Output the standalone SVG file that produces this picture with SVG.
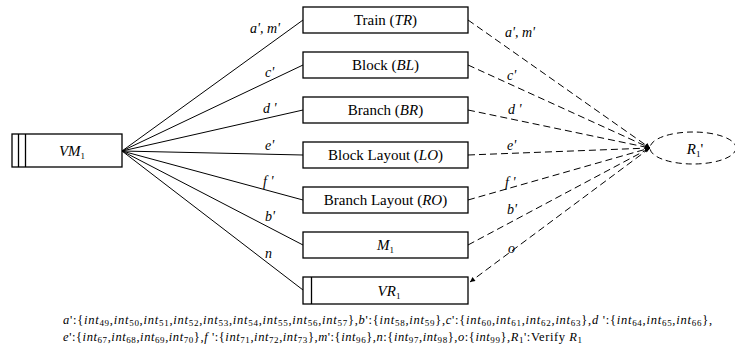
<svg xmlns="http://www.w3.org/2000/svg" width="735" height="356" viewBox="0 0 735 356">
<defs>
<marker id="ah" viewBox="0 0 10 10" refX="10" refY="5" markerWidth="7" markerHeight="5" orient="auto" markerUnits="userSpaceOnUse">
<path d="M0,0 L10,5 L0,10 Z" fill="#000"/>
</marker>
</defs>
<rect width="735" height="356" fill="#fff"/>
<g id="connectors">
<g stroke="#000" stroke-width="1" fill="none">
<line x1="122" y1="151" x2="303" y2="20"/>
<line x1="122" y1="151" x2="303" y2="65"/>
<line x1="122" y1="151" x2="303" y2="110"/>
<line x1="122" y1="151" x2="303" y2="155"/>
<line x1="122" y1="151" x2="303" y2="200"/>
<line x1="122" y1="151" x2="303" y2="245"/>
<line x1="122" y1="151" x2="303" y2="290"/>
</g>
<g stroke="#000" stroke-width="1" fill="none" stroke-dasharray="7,4" marker-end="url(#ah)">
<line x1="468" y1="20" x2="650" y2="148"/>
<line x1="468" y1="65" x2="650" y2="148"/>
<line x1="468" y1="110" x2="650" y2="148"/>
<line x1="468" y1="155" x2="650" y2="148"/>
<line x1="468" y1="200" x2="650" y2="148"/>
<line x1="468" y1="245" x2="650" y2="148"/>
<line x1="650" y1="148" x2="470" y2="282"/>
</g>
<text font-family="Liberation Serif" font-size="14" font-style="italic" x="250" y="33">a', m'</text>
<text font-family="Liberation Serif" font-size="14" font-style="italic" x="265" y="77">c'</text>
<text font-family="Liberation Serif" font-size="14" font-style="italic" x="263" y="113">d '</text>
<text font-family="Liberation Serif" font-size="14" font-style="italic" x="265" y="150">e'</text>
<text font-family="Liberation Serif" font-size="14" font-style="italic" x="263" y="186">f '</text>
<text font-family="Liberation Serif" font-size="14" font-style="italic" x="265" y="221">b'</text>
<text font-family="Liberation Serif" font-size="14" font-style="italic" x="265" y="258">n</text>
<text font-family="Liberation Serif" font-size="14" font-style="italic" x="505" y="37">a', m'</text>
<text font-family="Liberation Serif" font-size="14" font-style="italic" x="507" y="80">c'</text>
<text font-family="Liberation Serif" font-size="14" font-style="italic" x="508" y="114">d '</text>
<text font-family="Liberation Serif" font-size="14" font-style="italic" x="507" y="150">e'</text>
<text font-family="Liberation Serif" font-size="14" font-style="italic" x="505" y="187">f '</text>
<text font-family="Liberation Serif" font-size="14" font-style="italic" x="507" y="214">b'</text>
<text font-family="Liberation Serif" font-size="14" font-style="italic" x="508" y="253">o</text>
</g>
<g id="VM1">
<rect x="12" y="134" width="110" height="33" fill="#fff" stroke="#000" stroke-width="1.3"/>
<line x1="18.5" y1="134" x2="18.5" y2="167" stroke="#000" stroke-width="1.3"/>
<line x1="25.5" y1="134" x2="25.5" y2="167" stroke="#000" stroke-width="1.3"/>
<text font-family="Liberation Serif" font-size="15" text-anchor="middle" x="72" y="156"><tspan font-style="italic">VM</tspan><tspan font-size="9" dy="3">1</tspan></text>
</g>
<g id="TR">
<rect x="303" y="7" width="165" height="26" fill="#fff" stroke="#000" stroke-width="1.3"/>
<text font-family="Liberation Serif" font-size="15" text-anchor="middle" x="385.5" y="25">Train (<tspan font-style="italic">TR</tspan>)</text>
</g>
<g id="BL">
<rect x="303" y="52" width="165" height="26" fill="#fff" stroke="#000" stroke-width="1.3"/>
<text font-family="Liberation Serif" font-size="15" text-anchor="middle" x="385.5" y="70">Block (<tspan font-style="italic">BL</tspan>)</text>
</g>
<g id="BR">
<rect x="303" y="97" width="165" height="26" fill="#fff" stroke="#000" stroke-width="1.3"/>
<text font-family="Liberation Serif" font-size="15" text-anchor="middle" x="385.5" y="115">Branch (<tspan font-style="italic">BR</tspan>)</text>
</g>
<g id="LO">
<rect x="303" y="142" width="165" height="26" fill="#fff" stroke="#000" stroke-width="1.3"/>
<text font-family="Liberation Serif" font-size="15" text-anchor="middle" x="385.5" y="160">Block Layout (<tspan font-style="italic">LO</tspan>)</text>
</g>
<g id="RO">
<rect x="303" y="187" width="165" height="26" fill="#fff" stroke="#000" stroke-width="1.3"/>
<text font-family="Liberation Serif" font-size="15" text-anchor="middle" x="385.5" y="205">Branch Layout (<tspan font-style="italic">RO</tspan>)</text>
</g>
<g id="M1">
<rect x="303" y="232" width="165" height="26" fill="#fff" stroke="#000" stroke-width="1.3"/>
<text font-family="Liberation Serif" font-size="15" text-anchor="middle" x="385.5" y="250"><tspan font-style="italic">M</tspan><tspan font-size="9" dy="3">1</tspan></text>
</g>
<g id="VR1">
<rect x="303" y="277" width="165" height="27" fill="#fff" stroke="#000" stroke-width="1.3"/>
<line x1="311.5" y1="277" x2="311.5" y2="304" stroke="#000" stroke-width="1.3"/>
<text font-family="Liberation Serif" font-size="15" text-anchor="middle" x="389" y="296"><tspan font-style="italic">VR</tspan><tspan font-size="9" dy="3">1</tspan></text>
</g>
<g id="R1p">
<ellipse cx="693" cy="148" rx="43" ry="16" fill="none" stroke="#000" stroke-width="1" stroke-dasharray="6,4"/>
<text font-family="Liberation Serif" font-size="15" text-anchor="middle" x="695" y="154"><tspan font-style="italic">R</tspan><tspan font-size="9" dy="3">1</tspan><tspan dy="-3">'</tspan></text>
</g>
<g id="footer">
<text font-family="Liberation Serif" font-size="12.5" x="63" y="324" textLength="649" lengthAdjust="spacing"><tspan font-style="italic">a</tspan>':{<tspan font-style="italic">int</tspan><tspan font-size="9" dy="2">49</tspan><tspan dy="-2">,</tspan><tspan font-style="italic">int</tspan><tspan font-size="9" dy="2">50</tspan><tspan dy="-2">,</tspan><tspan font-style="italic">int</tspan><tspan font-size="9" dy="2">51</tspan><tspan dy="-2">,</tspan><tspan font-style="italic">int</tspan><tspan font-size="9" dy="2">52</tspan><tspan dy="-2">,</tspan><tspan font-style="italic">int</tspan><tspan font-size="9" dy="2">53</tspan><tspan dy="-2">,</tspan><tspan font-style="italic">int</tspan><tspan font-size="9" dy="2">54</tspan><tspan dy="-2">,</tspan><tspan font-style="italic">int</tspan><tspan font-size="9" dy="2">55</tspan><tspan dy="-2">,</tspan><tspan font-style="italic">int</tspan><tspan font-size="9" dy="2">56</tspan><tspan dy="-2">,</tspan><tspan font-style="italic">int</tspan><tspan font-size="9" dy="2">57</tspan><tspan dy="-2">},</tspan><tspan font-style="italic">b</tspan>':{<tspan font-style="italic">int</tspan><tspan font-size="9" dy="2">58</tspan><tspan dy="-2">,</tspan><tspan font-style="italic">int</tspan><tspan font-size="9" dy="2">59</tspan><tspan dy="-2">},</tspan><tspan font-style="italic">c</tspan>':{<tspan font-style="italic">int</tspan><tspan font-size="9" dy="2">60</tspan><tspan dy="-2">,</tspan><tspan font-style="italic">int</tspan><tspan font-size="9" dy="2">61</tspan><tspan dy="-2">,</tspan><tspan font-style="italic">int</tspan><tspan font-size="9" dy="2">62</tspan><tspan dy="-2">,</tspan><tspan font-style="italic">int</tspan><tspan font-size="9" dy="2">63</tspan><tspan dy="-2">},</tspan><tspan font-style="italic">d</tspan> ':{<tspan font-style="italic">int</tspan><tspan font-size="9" dy="2">64</tspan><tspan dy="-2">,</tspan><tspan font-style="italic">int</tspan><tspan font-size="9" dy="2">65</tspan><tspan dy="-2">,</tspan><tspan font-style="italic">int</tspan><tspan font-size="9" dy="2">66</tspan><tspan dy="-2">},</tspan></text>
<text font-family="Liberation Serif" font-size="12.5" x="63" y="341" textLength="519" lengthAdjust="spacing"><tspan font-style="italic">e</tspan>':{<tspan font-style="italic">int</tspan><tspan font-size="9" dy="2">67</tspan><tspan dy="-2">,</tspan><tspan font-style="italic">int</tspan><tspan font-size="9" dy="2">68</tspan><tspan dy="-2">,</tspan><tspan font-style="italic">int</tspan><tspan font-size="9" dy="2">69</tspan><tspan dy="-2">,</tspan><tspan font-style="italic">int</tspan><tspan font-size="9" dy="2">70</tspan><tspan dy="-2">},</tspan><tspan font-style="italic">f</tspan> ':{<tspan font-style="italic">int</tspan><tspan font-size="9" dy="2">71</tspan><tspan dy="-2">,</tspan><tspan font-style="italic">int</tspan><tspan font-size="9" dy="2">72</tspan><tspan dy="-2">,</tspan><tspan font-style="italic">int</tspan><tspan font-size="9" dy="2">73</tspan><tspan dy="-2">},</tspan><tspan font-style="italic">m</tspan>':{<tspan font-style="italic">int</tspan><tspan font-size="9" dy="2">96</tspan><tspan dy="-2">},</tspan><tspan font-style="italic">n</tspan>:{<tspan font-style="italic">int</tspan><tspan font-size="9" dy="2">97</tspan><tspan dy="-2">,</tspan><tspan font-style="italic">int</tspan><tspan font-size="9" dy="2">98</tspan><tspan dy="-2">},</tspan><tspan font-style="italic">o</tspan>:{<tspan font-style="italic">int</tspan><tspan font-size="9" dy="2">99</tspan><tspan dy="-2">},</tspan><tspan font-style="italic">R</tspan><tspan font-size="9" dy="2">1</tspan><tspan dy="-2">':Verify </tspan><tspan font-style="italic">R</tspan><tspan font-size="9" dy="2">1</tspan></text>
</g>
</svg>
